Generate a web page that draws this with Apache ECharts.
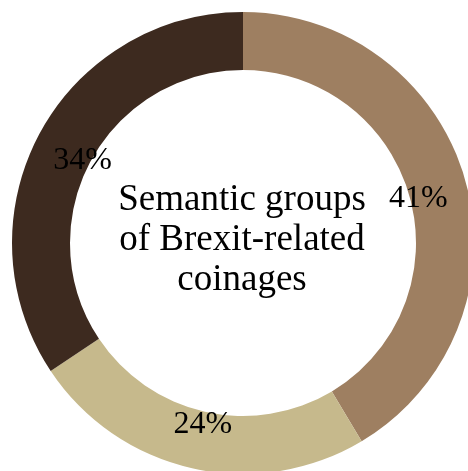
<!DOCTYPE html>
<html>
<head>
<meta charset="utf-8">
<script src="https://cdn.jsdelivr.net/npm/echarts@6/dist/echarts.min.js"></script>
<style>
  html, body { margin: 0; padding: 0; background: #ffffff; }
  #chart { width: 468px; height: 471px; }
</style>
</head>
<body>
<div id="chart"></div>
<script>
// Semantic groups of Brexit-related coinages (share, %)
const groups = ['Group A', 'Group B', 'Group C'];
const shares = [41, 24, 34];
const colors = ['#9e7f61', '#c6b98c', '#3d2a1f'];
const centerTitle = 'Semantic groups\nof Brexit-related\ncoinages';

const FONT = '"Liberation Serif", "Times New Roman", serif';
const CENTER = [243, 243];

const slices = groups.map((name, i) => ({
  name: name,
  value: shares[i],
  itemStyle: { color: colors[i] }
}));

const chart = echarts.init(document.getElementById('chart'), null, { renderer: 'canvas' });
chart.setOption({
  backgroundColor: '#ffffff',
  animation: false,
  graphic: [{
    type: 'text',
    x: 242,
    y: 240,
    style: {
      text: centerTitle,
      font: '37px ' + FONT,
      fill: '#000000',
      align: 'center',
      verticalAlign: 'middle',
      lineHeight: 40
    }
  }],
  series: [
    {
      // the ring itself
      type: 'pie',
      center: CENTER,
      radius: [173, 231],
      startAngle: 90,
      clockwise: true,
      silent: true,
      label: { show: false },
      labelLine: { show: false },
      data: slices
    },
    {
      // invisible ring used only to place percentage labels a bit inward
      type: 'pie',
      center: CENTER,
      radius: [127, 231],
      startAngle: 90,
      clockwise: true,
      silent: true,
      itemStyle: { color: 'rgba(0,0,0,0)' },
      label: {
        show: true,
        position: 'inside',
        formatter: '{c}%',
        fontFamily: FONT,
        fontSize: 32,
        color: '#000000',
        offset: [0, 4]
      },
      labelLine: { show: false },
      data: groups.map((name, i) => ({ name: name, value: shares[i] }))
    }
  ]
});
</script>
</body>
</html>
